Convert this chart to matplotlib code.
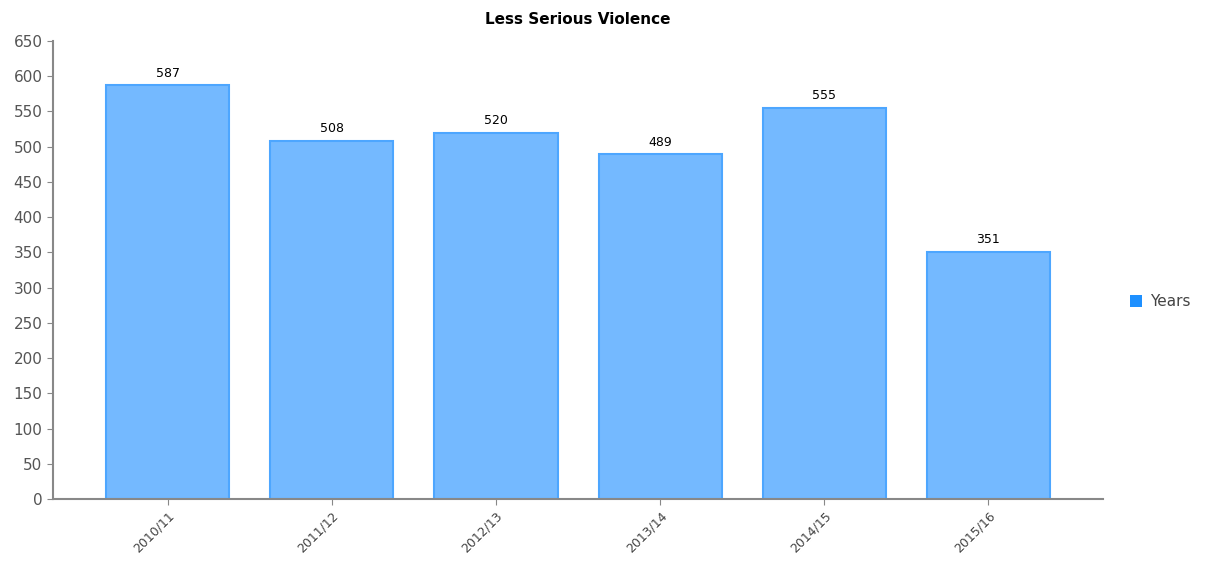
import matplotlib
matplotlib.use("Agg")
import matplotlib.pyplot as plt
from matplotlib.patches import Patch

# данные
years = ["2010/11", "2011/12", "2012/13", "2013/14", "2014/15", "2015/16"]
values = [587, 508, 520, 489, 555, 351]

fig = plt.figure(figsize=(12.07, 5.62), dpi=100)
ax = fig.add_axes([0.0439, 0.112, 0.870, 0.815])

x = range(len(years))
ax.bar(x, values, width=0.75, color="#74b9ff", edgecolor="#4da6ff", linewidth=1.5)

for xi, v in zip(x, values):
    ax.text(xi, v + 8, str(v), ha="center", va="bottom", fontsize=9, color="black")

ax.set_xlim(-0.7, len(years) - 0.3)
ax.set_ylim(0, 650)
ax.set_yticks(range(0, 651, 50))
ax.set_xticks(list(x))
ax.set_xticklabels(years, rotation=45, ha="right", rotation_mode="anchor", fontsize=9, color="#444444")
ax.tick_params(axis="y", labelsize=11, colors="#555555", length=4, color="#888888")
ax.tick_params(axis="x", length=4, color="#888888")

for s in ["top", "right"]:
    ax.spines[s].set_visible(False)
for s in ["left", "bottom"]:
    ax.spines[s].set_color("#888888")
    ax.spines[s].set_linewidth(1.5)

ax.set_title("Less Serious Violence", fontsize=11, fontweight="bold", pad=12)

fig.legend(handles=[Patch(facecolor="#1e90ff", label="Years")],
           loc="center left", bbox_to_anchor=(0.925, 0.463), frameon=False,
           fontsize=11, handlelength=0.8, handleheight=0.8, handletextpad=0.5,
           labelcolor="#444444")

fig.savefig("out.png", dpi=100)
